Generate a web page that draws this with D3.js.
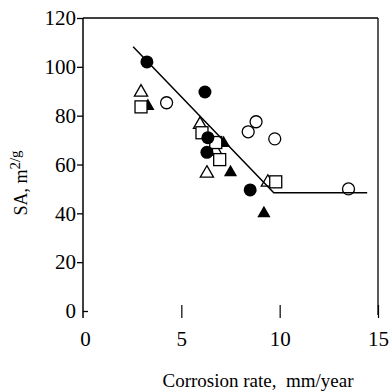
<!DOCTYPE html>
<html>
<head>
<meta charset="utf-8">
<script src="https://cdn.jsdelivr.net/npm/d3@7"></script>
<style>
  html, body { margin: 0; padding: 0; background: #fff; }
  svg { display: block; }
</style>
</head>
<body>
<div id="chart"></div>
<script>
// data (x = corrosion rate mm/year, y = SA m2/g)
const filledCircles = [[3.25, 102], [6.2, 89.7], [6.35, 71], [6.3, 65], [8.5, 49.6]]
const openCircles = [[4.25, 85.3], [8.8, 77.5], [8.4, 73.4], [9.75, 70.5], [13.5, 50]]
const openTriangles = [[2.95, 90.2], [5.95, 77], [6.75, 66], [6.3, 57], [9.4, 53.3]]
const filledTriangles = [[3.3, 84.5], [7.15, 69.3], [7.5, 57.4], [9.2, 40.6]]
const openSquares = [[2.95, 83.6], [6.05, 73], [6.75, 69], [6.95, 62], [9.8, 52.9]]
const fitLine = [[2.55, 108.2], [9.7, 48.4], [14.45, 48.4]]

const xTicks = [0, 5, 10, 15]
const yTicks = [0, 20, 40, 60, 80, 100, 120]

const SERIF = 'Liberation Serif, Times New Roman, serif'
const width = 391, height = 391
const svg = d3.select('#chart').append('svg')
  .attr('width', width).attr('height', height)
  .attr('font-family', SERIF)

const x = d3.scaleLinear().domain([0, 15]).range([83, 378])
const y = d3.scaleLinear().domain([0, 120]).range([311, 18])

// frame: left axis, top and right borders
svg.append('line').attr('x1', x(0)).attr('x2', x(0)).attr('y1', y(120)).attr('y2', 318)
  .attr('stroke', '#000').attr('stroke-width', 1.5)
svg.append('line').attr('x1', x(0)).attr('x2', x(15)).attr('y1', y(120)).attr('y2', y(120))
  .attr('stroke', '#000').attr('stroke-width', 1.3)
svg.append('line').attr('x1', x(15)).attr('x2', x(15)).attr('y1', y(120)).attr('y2', 315)
  .attr('stroke', '#000').attr('stroke-width', 1.3)

// y ticks
const yAxis = svg.append('g').attr('transform', `translate(${x(0)},0)`)
  .call(d3.axisLeft(y).tickValues(yTicks).tickSize(6).tickPadding(1))
  .attr('font-family', SERIF).attr('font-size', 21)
yAxis.select('.domain').remove()
yAxis.selectAll('.tick line').attr('stroke', '#000').attr('stroke-width', 1.3)
yAxis.select('.tick line').attr('x2', 5) // zero tick crosses the axis
yAxis.selectAll('.tick text').attr('fill', '#000')

// x ticks (no baseline drawn)
const xAxis = svg.append('g').attr('transform', `translate(0,${y(0)})`)
  .call(d3.axisBottom(x).tickValues(xTicks).tickSize(7).tickPadding(13))
  .attr('font-family', SERIF).attr('font-size', 21)
xAxis.select('.domain').remove()
xAxis.selectAll('.tick line').attr('y1', -6).attr('stroke', '#000').attr('stroke-width', 1.2)
xAxis.selectAll('.tick').filter(d => d === 0).select('line').remove()
xAxis.selectAll('.tick text').attr('fill', '#000')
  .attr('dx', d => d === 0 ? 2 : 0)

// axis titles
svg.append('text')
  .attr('x', 258).attr('y', 387)
  .attr('text-anchor', 'middle').attr('font-size', 19)
  .text('Corrosion rate,\u00a0 mm/year')

const yl = svg.append('text')
  .attr('transform', `translate(27,183) rotate(-90)`)
  .attr('text-anchor', 'middle').attr('font-size', 18)
yl.append('tspan').text('SA, m')
yl.append('tspan').attr('font-size', 15).attr('dy', -7).text('2/g')

// markers
const s = 6
const triPath = d3.symbol().type(d3.symbolTriangle).size(s * s * 2.1)

svg.append('g').selectAll('circle.oc').data(openCircles).join('circle')
  .attr('cx', d => x(d[0])).attr('cy', d => y(d[1])).attr('r', s)
  .attr('fill', '#fff').attr('stroke', '#000').attr('stroke-width', 1.3)

svg.append('g').selectAll('path.ft').data(filledTriangles).join('path')
  .attr('d', triPath)
  .attr('transform', d => `translate(${x(d[0])},${y(d[1]) + 1.5})`)
  .attr('fill', '#000')

svg.append('g').selectAll('path.ot').data(openTriangles).join('path')
  .attr('d', triPath)
  .attr('transform', d => `translate(${x(d[0])},${y(d[1]) + 1.5})`)
  .attr('fill', '#fff').attr('stroke', '#000').attr('stroke-width', 1.3)

svg.append('g').selectAll('rect.os').data(openSquares).join('rect')
  .attr('x', d => x(d[0]) - s).attr('y', d => y(d[1]) - s)
  .attr('width', 2 * s).attr('height', 2 * s)
  .attr('fill', '#fff').attr('stroke', '#000').attr('stroke-width', 1.3)

svg.append('g').selectAll('circle.fc').data(filledCircles).join('circle')
  .attr('cx', d => x(d[0])).attr('cy', d => y(d[1])).attr('r', s + 0.5)
  .attr('fill', '#000')

// fitted line
svg.append('path').datum(fitLine)
  .attr('d', d3.line().x(d => x(d[0])).y(d => y(d[1])))
  .attr('fill', 'none').attr('stroke', '#000').attr('stroke-width', 1.5)
</script>
</body>
</html>
